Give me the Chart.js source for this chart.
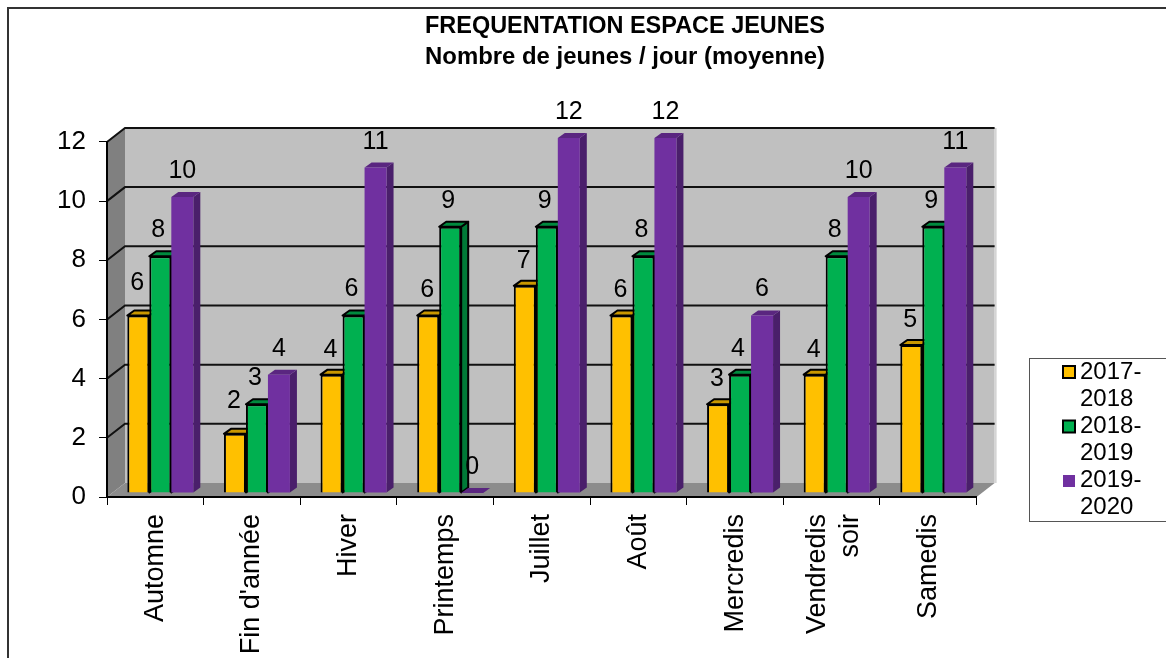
<!DOCTYPE html>
<html>
<head>
<meta charset="utf-8">
<style>
  html, body { margin: 0; padding: 0; background: #fff; }
  canvas { display: block; }
</style>
<script src="https://cdn.jsdelivr.net/npm/chart.js@4/dist/chart.umd.min.js"></script>
</head>
<body>
<canvas id="graph" width="1166" height="658"></canvas>
<script>
const categories = ['Automne', "Fin d'année", 'Hiver', 'Printemps', 'Juillet', 'Août', 'Mercredis', ['Vendredis', 'soir'], 'Samedis'];
const seriesNames = ['2017-2018', '2018-2019', '2019-2020'];
const values2017 = [6, 2, 4, 6, 7, 6, 3, 4, 5];
const values2018 = [8, 3, 6, 9, 9, 8, 4, 8, 9];
const values2019 = [10, 4, 11, 0, 12, 12, 6, 10, 11];
const yTicks = [0, 2, 4, 6, 8, 10, 12];
const titleLines = ['FREQUENTATION ESPACE JEUNES', 'Nombre de jeunes / jour (moyenne)'];

const fontFamily = '"Liberation Sans", Arial, sans-serif';

// profondeur du mur et des barres
const wallDx = 18, wallDy = 14;
const barDx = 7, barDy = 5;
const barShiftX = 5, barShiftY = -4;
// décalage des étiquettes au-dessus des barres
const labelGap = [18, 19, 19];
const labelShift = [-1, -2, 0];
const labelRaised = { '0:0': 7, '0:1': 8 };

const styles = [
  { front: '#FFC000', top: '#C99700', side: '#A67C00', line: '#000', width: 2 },
  { front: '#00B050', top: '#008A3E', side: '#007A37', line: '#000', width: 2 },
  { front: '#7030A0', top: '#5A2680', side: '#4A1F6B', line: '#7030A0', width: 0 }
];

function poly(ctx, pts, fill, stroke, lw) {
  ctx.beginPath();
  pts.forEach((p, i) => i ? ctx.lineTo(p[0], p[1]) : ctx.moveTo(p[0], p[1]));
  ctx.closePath();
  ctx.fillStyle = fill;
  ctx.fill();
  if (stroke && lw) {
    ctx.strokeStyle = stroke;
    ctx.lineWidth = lw;
    ctx.lineJoin = 'round';
    ctx.stroke();
  }
}

const decor = {
  id: 'decor',
  afterLayout(chart) {
    // titre et légende placés comme dans l'original
    const t = chart.titleBlock;
    t.left = 425; t.right = 825;
    const lg = chart.legend;
    lg.left = 1068; lg.right = 1166; lg.top = 362; lg.bottom = 521;
  },
  beforeDraw(chart) {
    const ctx = chart.ctx;
    ctx.save();
    ctx.fillStyle = '#fff';
    ctx.fillRect(0, 0, chart.width, chart.height);
    // cadre extérieur
    ctx.strokeStyle = '#333';
    ctx.lineWidth = 2;
    ctx.beginPath();
    ctx.moveTo(8, 658);
    ctx.lineTo(8, 8);
    ctx.lineTo(1166, 8);
    ctx.stroke();

    const { left, right, top, bottom } = chart.chartArea;
    poly(ctx, [[left + wallDx, top - wallDy], [right + wallDx, top - wallDy], [right + wallDx, bottom - wallDy], [left + wallDx, bottom - wallDy]], '#C0C0C0');
    poly(ctx, [[left, top], [left + wallDx, top - wallDy], [left + wallDx, bottom - wallDy], [left, bottom]], '#808080');
    poly(ctx, [[left, bottom], [left + wallDx, bottom - wallDy], [right + wallDx, bottom - wallDy], [right, bottom]], '#8C8C8C');
    // bord droit du mur
    ctx.fillStyle = '#D4D4D4';
    ctx.fillRect(right + wallDx, top - wallDy, 2, bottom - top);

    // lignes de grille
    const y = chart.scales.y;
    ctx.strokeStyle = '#111';
    ctx.lineWidth = 2;
    yTicks.forEach(v => {
      if (v === 0) return;
      const py = y.getPixelForValue(v);
      ctx.beginPath();
      ctx.moveTo(left, py);
      ctx.lineTo(left + wallDx, py - wallDy);
      ctx.lineTo(right + wallDx, py - wallDy);
      ctx.stroke();
    });
    ctx.restore();

    // libellé sur deux lignes : on le recentre sur sa catégorie
    chart.scales.x.getLabelItems().forEach(item => {
      if (Array.isArray(item.label) && !item.recentred) {
        item.options.translation[0] -= 14;
        item.recentred = true;
      }
    });
  },
  beforeDatasetsDraw(chart) {
    const ctx = chart.ctx;
    ctx.save();
    ctx.translate(barShiftX, barShiftY);
    chart.data.datasets.forEach((ds, i) => {
      const s = styles[i];
      chart.getDatasetMeta(i).data.forEach(bar => {
        const l = bar.x - bar.width / 2, r = bar.x + bar.width / 2;
        const t = bar.y, b = bar.base;
        poly(ctx, [[r, t], [r + barDx, t - barDy], [r + barDx, b - barDy], [r, b]], s.side, s.line, s.width);
        poly(ctx, [[l, t], [l + barDx, t - barDy], [r + barDx, t - barDy], [r, t]], s.top, s.line, s.width);
      });
    });
  },
  afterDatasetsDraw(chart) {
    const ctx = chart.ctx;
    ctx.fillStyle = '#000';
    ctx.font = '25px ' + fontFamily;
    ctx.textAlign = 'center';
    ctx.textBaseline = 'alphabetic';
    chart.data.datasets.forEach((ds, i) => {
      chart.getDatasetMeta(i).data.forEach((bar, j) => {
        const gap = labelGap[i] + (labelRaised[i + ':' + j] || 0);
        ctx.fillText(String(ds.data[j]), bar.x + labelShift[i], bar.y - gap);
      });
    });
    ctx.restore();
  },
  afterDraw(chart) {
    const ctx = chart.ctx;
    ctx.save();
    ctx.strokeStyle = '#555';
    ctx.lineWidth = 1;
    ctx.strokeRect(1029.5, 358.5, 137, 163);
    // carrés de légende
    styles.forEach((s, i) => {
      const sy = 366 + i * 54.5;
      ctx.fillStyle = s.front;
      ctx.fillRect(1063, sy, 12, 12);
      if (s.width) {
        ctx.strokeStyle = '#000';
        ctx.lineWidth = 2;
        ctx.strokeRect(1063, sy, 12, 12);
      }
    });
    ctx.restore();
  }
};

new Chart(document.getElementById('graph'), {
  type: 'bar',
  data: {
    labels: categories,
    datasets: [values2017, values2018, values2019].map((vals, i) => ({
      label: seriesNames[i],
      data: vals,
      backgroundColor: styles[i].front,
      borderColor: styles[i].line,
      borderWidth: styles[i].width,
      categoryPercentage: 0.683,
      barPercentage: 1,
      clip: false
    }))
  },
  options: {
    responsive: false,
    animation: false,
    layout: { padding: { left: 0, right: 106, top: 10, bottom: 0 } },
    plugins: {
      title: {
        display: true,
        text: titleLines,
        color: '#000',
        font: { family: fontFamily, size: 24, weight: 'bold', lineHeight: 1.29 },
        padding: { top: 1, bottom: 69 }
      },
      legend: {
        position: 'right',
        labels: {
          color: '#000',
          boxWidth: 0,
          padding: 0,
          font: { family: fontFamily, size: 24, lineHeight: 1.13 },
          generateLabels(chart) {
            return Chart.defaults.plugins.legend.labels.generateLabels(chart).map(item => {
              const parts = item.text.split('-');
              item.text = [parts[0] + '-', parts[1]];
              return item;
            });
          }
        }
      },
      tooltip: { enabled: false }
    },
    scales: {
      x: {
        offset: true,
        grid: { display: true, drawOnChartArea: false, offset: true, tickLength: 8, tickColor: '#000', tickWidth: 1 },
        border: { color: '#000', width: 2 },
        ticks: { autoSkip: false, minRotation: 90, maxRotation: 90, padding: 9, color: '#000', font: { family: fontFamily, size: 27, lineHeight: 1.2 } },
        afterFit(scale) { scale.height = 161; }
      },
      y: {
        min: 0,
        max: 12,
        afterBuildTicks(scale) { scale.ticks = yTicks.map(v => ({ value: v })); },
        grid: { display: true, drawOnChartArea: false, tickLength: 8, tickColor: '#000', tickWidth: 1 },
        border: { color: '#000', width: 2 },
        ticks: { padding: 13, color: '#000', font: { family: fontFamily, size: 26 } },
        afterFit(scale) { scale.width = 107; }
      }
    }
  },
  plugins: [decor]
});
</script>
</body>
</html>
